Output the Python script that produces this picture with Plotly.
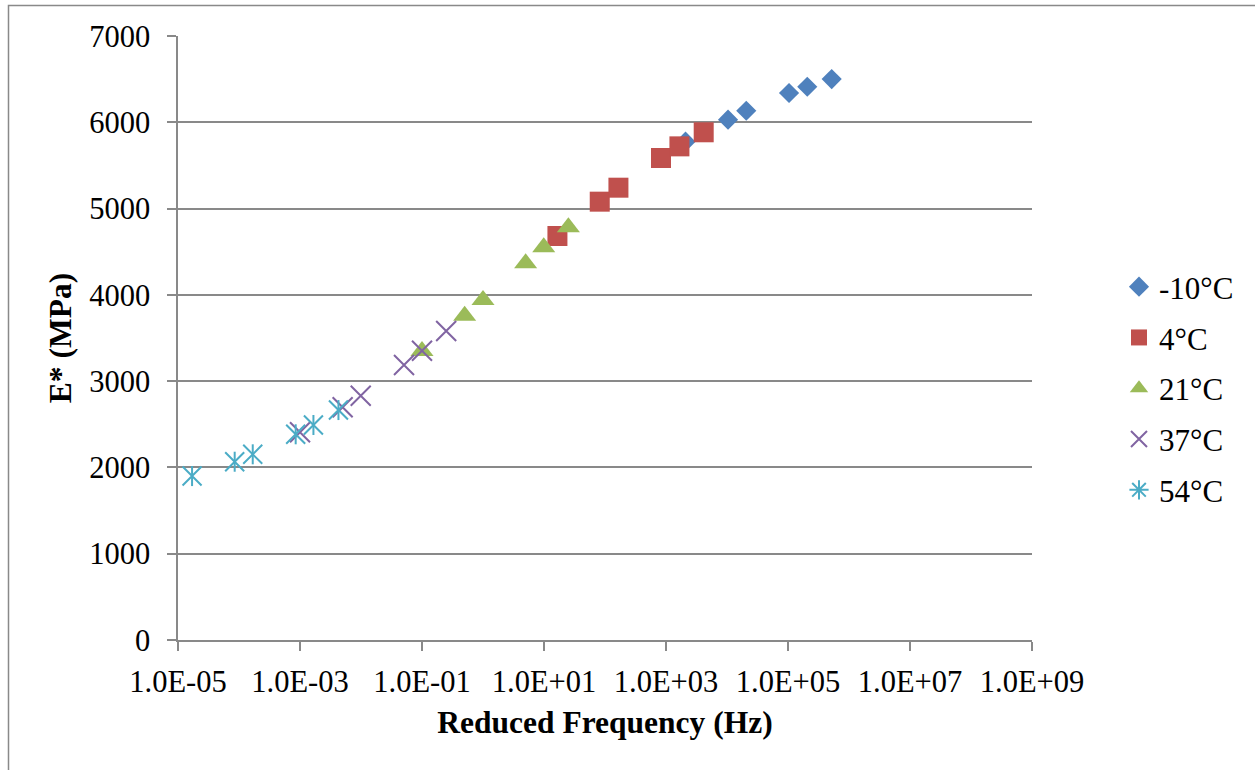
import plotly.graph_objects as go

# ---- data ----
freq_m10 = [2090, 1.04e4, 2.07e4, 1.04e5, 2.07e5, 5.2e5]
E_m10 = [5775, 6030, 6134, 6339, 6412, 6501]

freq_4 = [16.6, 82, 166, 828, 1660, 4150]
E_4 = [4682, 5080, 5242, 5586, 5721, 5884]

freq_21 = [0.1, 0.5, 1.0, 5.0, 9.9, 25.1]
E_21 = [3349, 3758, 3940, 4366, 4551, 4783]

freq_37 = [1.0e-3, 5.0e-3, 9.9e-3, 0.0507, 0.1, 0.249]
E_37 = [2407, 2697, 2831, 3187, 3353, 3581]

freq_54 = [1.7e-5, 8.5e-5, 1.68e-4, 8.5e-4, 1.66e-3, 4.27e-3]
E_54 = [1900, 2066, 2152, 2384, 2492, 2665]

x_tickvals = [1e-5, 1e-3, 1e-1, 1e1, 1e3, 1e5, 1e7, 1e9]
x_ticktext = ["1.0E-05", "1.0E-03", "1.0E-01", "1.0E+01", "1.0E+03",
              "1.0E+05", "1.0E+07", "1.0E+09"]
y_tickvals = [0, 1000, 2000, 3000, 4000, 5000, 6000, 7000]

FONT = "Liberation Serif"
GRAY = "#898989"

fig = go.Figure()

fig.add_trace(go.Scatter(
    x=freq_m10, y=E_m10, mode="markers", name="-10°C", legendgroup="g1",
    marker=dict(symbol="diamond", size=15.5, color="#4F81BD")))
fig.add_trace(go.Scatter(
    x=freq_4, y=E_4, mode="markers", name="4°C", legendgroup="g2",
    marker=dict(symbol="square", size=20, color="#C0504D")))
fig.add_trace(go.Scatter(
    x=freq_21, y=E_21, mode="markers", name="21°C", legendgroup="g3",
    marker=dict(symbol="triangle-up", size=20, color="#9BBB59")))
fig.add_trace(go.Scatter(
    x=freq_37, y=E_37, mode="markers", name="37°C", legendgroup="g4",
    marker=dict(symbol="x-thin-open", size=20, color="#8064A2",
                line=dict(width=2, color="#8064A2"))))
# 54°C: star marker = X plus vertical stroke
fig.add_trace(go.Scatter(
    x=freq_54, y=E_54, mode="markers", name="54°C", legendgroup="g5",
    showlegend=False,
    marker=dict(symbol="x-thin-open", size=19, color="#4BACC6",
                line=dict(width=2, color="#4BACC6"))))
fig.add_trace(go.Scatter(
    x=freq_54, y=E_54, mode="markers", name="54°C", legendgroup="g5",
    showlegend=False,
    marker=dict(symbol="line-ns-open", size=14.3, color="#4BACC6",
                line=dict(width=2, color="#4BACC6"))))
fig.add_trace(go.Scatter(
    x=[None], y=[None], mode="markers", name="54°C", legendgroup="g5",
    marker=dict(symbol="asterisk-open", size=16, color="#4BACC6",
                line=dict(width=2, color="#4BACC6"))))

W, H = 1255, 770
L, R, T, B = 178, 223, 36, 130
pw, ph = W - L - R, H - T - B

fig.update_layout(
    width=W, height=H,
    margin=dict(l=L, r=R, t=T, b=B, pad=0, autoexpand=False),
    paper_bgcolor="white", plot_bgcolor="white",
    font=dict(family=FONT, size=30.5, color="black"),
    showlegend=True,
    legend=dict(
        x=(1119 - L) / pw, xanchor="left",
        y=(H - B - 388.5) / ph, yanchor="middle",
        font=dict(family=FONT, size=31, color="black"),
        traceorder="grouped", tracegroupgap=7.5,
        bgcolor="rgba(0,0,0,0)", borderwidth=0,
    ),
    xaxis=dict(
        type="log", range=[-5, 9],
        tickvals=x_tickvals, ticktext=x_ticktext,
        ticks="outside", ticklen=9, tickwidth=1.5, tickcolor=GRAY,
        showline=True, linecolor=GRAY, linewidth=1.5,
        showgrid=False, zeroline=False, automargin=False,
        ticklabelstandoff=5,
        tickfont=dict(family=FONT, size=30.5, color="black"),
        title=dict(text="<b>Reduced Frequency (Hz)</b>", standoff=13,
                   font=dict(family=FONT, size=31.5, color="black")),
    ),
    yaxis=dict(
        range=[0, 7000], tickvals=y_tickvals,
        ticks="outside", ticklen=9, tickwidth=1.5, tickcolor=GRAY,
        showline=True, linecolor=GRAY, linewidth=1.5,
        showgrid=True, gridcolor=GRAY, gridwidth=1.5,
        zeroline=False, automargin=False,
        ticklabelstandoff=11,
        tickfont=dict(family=FONT, size=30.5, color="black"),
        title=dict(text="<b>E* (MPa)</b>", standoff=8,
                   font=dict(family=FONT, size=31.5, color="black")),
    ),
)

# outer chart-area frame (left and top edges visible in the reference)
fig.add_shape(type="rect", xref="paper", yref="paper",
              x0=(8.5 - L) / pw, x1=(W + 10 - L) / pw,
              y0=(H - B - (H + 10)) / ph, y1=(H - B - 5.5) / ph,
              line=dict(color=GRAY, width=1.5), fillcolor="rgba(0,0,0,0)",
              layer="below")

fig.write_html("out.html")
